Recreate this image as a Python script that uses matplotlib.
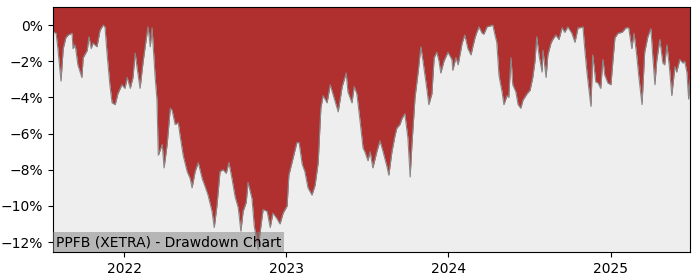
#!/usr/bin/env python3

import matplotlib
matplotlib.use("Agg")
import matplotlib.pyplot as plt
import matplotlib.ticker as mticker
import numpy as np
import pandas as pd


# drawdown: days counted from 2022-01-01, value in percent

base_date = "2022-01-01"

days = [
	-160, -158, -153, -149, -142, -137, -131, -126, -117, -115,
	-110, -104, -95, -92, -83, -79, -74, -70, -61, -54,
	-47, -43, -38, -32, -27, -20, -14, -5, 2, 7,
	14, 20, 25, 29, 36, 43, 52, 54, 59, 63,
	70, 74, 77, 86, 90, 97, 104, 108, 115, 122,
	126, 133, 142, 149, 153, 160, 167, 176, 182, 189,
	198, 203, 209, 216, 223, 230, 236, 243, 250, 257,
	263, 268, 275, 279, 288, 293, 299, 302, 306, 313,
	322, 329, 335, 344, 351, 358, 367, 371, 380, 389,
	394, 401, 407, 414, 423, 430, 437, 443, 448, 457,
	464, 470, 482, 491, 500, 504, 513, 518, 524, 531,
	538, 542, 547, 549, 554, 560, 569, 576, 583, 592,
	596, 603, 610, 614, 621, 626, 632, 639, 644, 648,
	655, 662, 668, 673, 682, 686, 693, 698, 704, 709,
	713, 720, 729, 738, 740, 747, 752, 761, 767, 774,
	781, 785, 790, 794, 799, 806, 810, 817, 824, 830,
	835, 839, 844, 851, 855, 862, 866, 871, 875, 882,
	887, 893, 898, 907, 914, 920, 925, 929, 934, 941,
	943, 950, 954, 961, 965, 972, 979, 986, 992, 999,
	1008, 1015, 1022, 1026, 1033, 1037, 1042, 1051, 1055, 1062,
	1067, 1073, 1078, 1082, 1089, 1096, 1100, 1105, 1112, 1121,
	1130, 1136, 1143, 1148, 1154, 1159, 1166, 1172, 1179, 1186,
	1190, 1195, 1199, 1206, 1213, 1217, 1222, 1228, 1233, 1240,
	1244, 1251, 1258, 1262, 1267, 1271, 1274,
]

drawdown = [
	-0.35, -0.4, -0.45, -1.3, -3.1, -1.3, -0.7, -0.55, -0.45, -1.3,
	-1.1, -2.2, -2.9, -1.8, -1.4, -0.65, -1.3, -1.0, -1.2, -0.28,
	0.0, -0.1, -1.66, -3.3, -4.3, -4.4, -3.8, -3.3, -3.5, -2.9,
	-3.5, -2.9, -1.55, -2.3, -3.5, -2.0, -0.4, -0.1, -1.2, -0.15,
	-2.9, -4.1, -7.2, -6.6, -7.9, -6.6, -4.6, -4.7, -5.5, -5.4,
	-6.1, -7.2, -8.1, -8.5, -9.0, -8.1, -7.6, -8.5, -8.9, -9.4,
	-10.3, -11.2, -10.0, -8.1, -8.0, -8.2, -7.6, -8.5, -9.5, -10.1,
	-11.4, -10.3, -9.8, -8.7, -9.6, -11.1, -12.0, -12.4, -11.5, -10.2,
	-10.3, -11.2, -10.4, -10.7, -11.0, -10.4, -10.0, -8.3, -7.4, -6.5,
	-6.5, -7.7, -8.1, -9.0, -9.4, -8.85, -7.6, -4.6, -3.9, -4.3,
	-3.3, -3.8, -4.8, -3.4, -2.65, -3.7, -4.3, -3.4, -3.8, -5.25,
	-6.8, -7.0, -7.35, -7.5, -7.0, -7.9, -7.0, -6.4, -7.0, -7.85,
	-8.3, -7.0, -6.1, -5.7, -5.5, -5.15, -4.9, -6.25, -8.4, -6.6,
	-4.0, -2.6, -1.2, -2.0, -3.6, -4.4, -3.8, -1.8, -1.5, -2.0,
	-2.65, -2.0, -1.5, -1.9, -2.5, -1.8, -2.2, -1.0, -0.55, -1.3,
	-1.65, -1.2, -0.7, -0.4, -0.1, -0.45, -0.5, -0.1, -0.05, 0.0,
	-0.55, -0.95, -2.8, -3.7, -4.4, -3.9, -4.0, -1.8, -3.3, -3.7,
	-4.4, -4.6, -4.15, -3.8, -3.6, -2.9, -2.0, -0.65, -1.65, -2.6,
	-1.4, -2.9, -1.65, -1.0, -0.8, -0.55, -0.8, -0.15, -0.4, -0.1,
	-0.45, -0.95, -0.15, -0.15, -0.1, -1.3, -2.6, -4.5, -1.65, -3.15,
	-3.2, -3.5, -1.9, -2.75, -3.2, -3.3, -2.1, -0.7, -0.45, -0.4,
	-0.15, -0.15, -1.3, -0.45, -1.65, -2.9, -4.4, -1.5, -0.65, -0.2,
	-1.65, -3.3, -2.0, -0.8, -2.1, -2.2, -1.1, -2.4, -3.9, -2.3,
	-2.6, -1.9, -2.1, -2.0, -2.6, -4.1, -3.0,
]

label = "PPFB (XETRA) - Drawdown Chart"

dates = pd.Timestamp(base_date) + pd.to_timedelta(days, unit="D")
dd = np.array(drawdown)

top = 1.0
bottom = -12.55

fig = plt.figure(figsize=(7, 2.8), dpi=100)
ax = fig.add_axes([0.0757, 0.1, 0.91, 0.875])
ax.set_facecolor("#eeeeee")

ax.fill_between(dates, dd, top, color="#b03030", linewidth=0)
ax.plot(dates, dd, color="#888888", linewidth=0.8)

ax.set_xlim(dates[0], dates[-1])
ax.set_ylim(bottom, top)
ax.set_yticks(np.arange(-12, 1, 2))
ax.yaxis.set_major_formatter(mticker.PercentFormatter(decimals=0))
ax.xaxis.set_major_locator(matplotlib.dates.YearLocator())
ax.xaxis.set_major_formatter(matplotlib.dates.DateFormatter("%Y"))

# label box is half transparent, the deepest spike shows through it
ax.text(0.0047, 0.012, label, transform=ax.transAxes, fontsize=10,
	ha="left", va="bottom", zorder=5,
	bbox=dict(boxstyle="square,pad=0.2", facecolor="gray", alpha=0.5, edgecolor="none"))

fig.savefig("out.png")
